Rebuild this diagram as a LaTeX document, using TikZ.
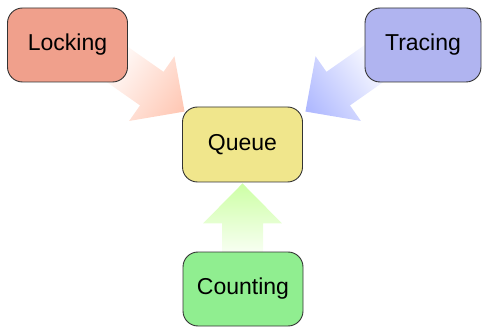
\documentclass[tikz,border=0pt]{standalone}
\usepackage{fontspec}
\setmainfont{Liberation Sans}
\usetikzlibrary{calc}
\definecolor{lockfill}{RGB}{240,160,140}
\definecolor{tracefill}{RGB}{176,180,240}
\definecolor{queuefill}{RGB}{240,230,140}
\definecolor{countfill}{RGB}{144,238,144}
\definecolor{lockarrow}{RGB}{255,198,178}
\definecolor{tracearrow}{RGB}{172,182,255}
\definecolor{countarrow}{RGB}{205,255,165}
\pgfdeclarelayer{background}
\pgfsetlayers{background,main}
\begin{document}
\begin{tikzpicture}[x=1pt,y=1pt,
  box/.style={draw=black!80, line width=0.9pt, rounded corners=15pt,
    minimum width=120pt, minimum height=74pt, inner sep=0pt,
    font=\fontsize{23}{27}\selectfont},
  fatarrow/.style={left color=white, right color=#1}]
\useasboundingbox (0,0) rectangle (482,327);
\node[box, fill=lockfill] (locking) at (67.5,282) {Locking};
\node[box, fill=tracefill, minimum width=116pt] (tracing) at (423,282) {Tracing};
\node[box, fill=queuefill, minimum height=75pt] (queue) at (242.5,182.5) {Queue};
\node[box, fill=countfill] (counting) at (243,38) {Counting};
\coordinate (tipL) at ($(queue.north west)+(2.5,-5)$);
\coordinate (tipT) at ($(queue.north east)+(2.5,-5)$);
\coordinate (tipC) at ($(queue.south)+(0,-1)$);
\begin{pgfonlayer}{background}
\begin{scope}[transform canvas={shift={(tipL)}, rotate=-35}]
  \shade[fatarrow=lockarrow] (0,0) -- (-40,39.5) -- (-40,20.5) -- (-95,20.5)
    -- (-95,-20.5) -- (-40,-20.5) -- (-40,-39.5) -- cycle;
\end{scope}
\begin{scope}[transform canvas={shift={(tipT)}, rotate=215}]
  \shade[fatarrow=tracearrow] (0,0) -- (-40,39.5) -- (-40,20.5) -- (-95,20.5)
    -- (-95,-20.5) -- (-40,-20.5) -- (-40,-39.5) -- cycle;
\end{scope}
\begin{scope}[transform canvas={shift={(tipC)}, rotate=90}]
  \shade[fatarrow=countarrow] (0,0) -- (-40,39.5) -- (-40,20.5) -- (-80,20.5)
    -- (-80,-20.5) -- (-40,-20.5) -- (-40,-39.5) -- cycle;
\end{scope}
\end{pgfonlayer}
\end{tikzpicture}
\end{document}
